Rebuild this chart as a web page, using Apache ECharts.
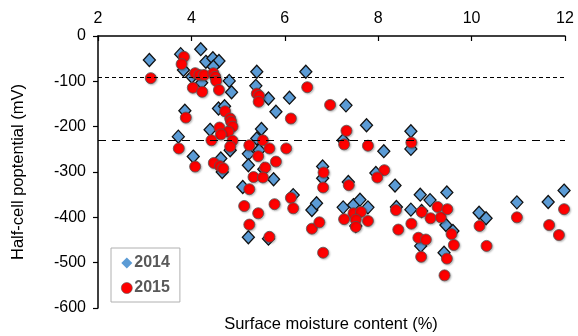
<!DOCTYPE html>
<html><head><meta charset="utf-8">
<script src="https://cdn.jsdelivr.net/npm/echarts@6/dist/echarts.min.js"></script>
<style>html,body{margin:0;padding:0;background:#fff}#c{width:578px;height:336px}</style>
</head><body><div id="c"></div>
<script>
const seriesNames = ['2014', '2015'];
const xTicks = [2, 4, 6, 8, 10, 12];
const yTicks = [0, -100, -200, -300, -400, -500, -600];
const refLines = [-90, -230];
const data2014 = [
[3.10,-53],[3.77,-40],[4.20,-29],[3.83,-75],[4.31,-57],[4.46,-49],[4.59,-55],[4.47,-68],[4.01,-90],[4.22,-103],
[4.81,-99],[4.86,-124],[3.86,-165],[4.58,-160],[4.71,-155],[4.40,-207],[3.72,-222],[4.04,-266],[4.63,-270],[4.83,-252],
[4.66,-300],[5.40,-79],[5.38,-110],[5.65,-138],[5.81,-167],[6.10,-136],[6.45,-79],[5.50,-205],[5.40,-226],[5.22,-260],
[5.45,-252],[5.22,-285],[5.55,-294],[5.76,-316],[5.10,-333],[6.18,-351],[6.58,-384],[6.68,-369],[5.22,-444],[5.65,-447],
[7.31,-153],[7.75,-197],[7.25,-230],[8.12,-254],[8.70,-210],[8.70,-249],[6.81,-288],[7.95,-302],[6.81,-314],[7.36,-322],
[8.36,-330],[7.25,-378],[7.47,-373],[7.61,-361],[7.78,-378],[7.52,-419],[8.39,-377],[8.70,-383],[8.90,-350],[9.11,-362],
[8.93,-386],[9.47,-345],[9.45,-417],[9.60,-430],[8.91,-463],[9.41,-478],[10.16,-390],[10.31,-402],[10.97,-367],[11.64,-366],
[11.98,-341]
];
const data2015 = [
[3.13,-93],[3.84,-46],[3.79,-62],[4.08,-82],[4.17,-86],[4.27,-86],[4.47,-82],[4.51,-90],[4.53,-99],[4.03,-114],
[4.23,-123],[4.59,-119],[3.88,-180],[4.72,-166],[4.83,-182],[4.85,-189],[4.88,-200],[4.60,-202],[4.79,-211],[4.63,-217],
[4.43,-230],[4.88,-231],[4.83,-244],[3.73,-248],[4.08,-288],[4.48,-280],[4.61,-287],[4.68,-292],[5.40,-127],[5.45,-132],
[5.44,-145],[6.48,-113],[6.13,-182],[5.24,-241],[5.53,-230],[5.67,-248],[6.03,-248],[5.43,-265],[5.81,-277],[5.58,-290],
[5.33,-311],[5.53,-312],[5.24,-338],[5.13,-375],[5.43,-391],[5.78,-371],[6.13,-357],[6.18,-380],[5.24,-416],[5.67,-443],
[6.58,-425],[6.74,-411],[6.82,-478],[6.97,-152],[7.32,-209],[7.27,-239],[7.78,-242],[8.71,-235],[6.83,-301],[8.13,-296],
[7.98,-312],[6.82,-334],[7.37,-329],[7.27,-404],[7.47,-391],[7.63,-388],[7.52,-405],[7.52,-421],[7.78,-408],[8.38,-384],
[8.43,-427],[8.71,-414],[8.93,-388],[9.12,-402],[9.27,-377],[9.34,-400],[9.48,-382],[8.86,-445],[9.02,-449],[8.92,-487],
[9.57,-437],[9.62,-461],[9.47,-491],[9.42,-528],[10.17,-419],[10.32,-463],[10.97,-400],[11.66,-417],[11.87,-439],[11.98,-382]
];
const xTitle = 'Surface moisture content (%)';
const yTitle = 'Half-cell poptential (mV)';

const FONT = 'Liberation Sans, Arial, sans-serif';
const chart = echarts.init(document.getElementById('c'), null, {renderer: 'canvas'});
chart.setOption({
  animation: false,
  backgroundColor: '#fff',
  grid: {left: 98, right: 13, top: 36, bottom: 28},
  xAxis: {
    type: 'value', position: 'top', min: xTicks[0], max: xTicks[xTicks.length - 1], interval: 2,
    axisLine: {onZero: false, lineStyle: {color: '#000', width: 1.5}},
    axisTick: {show: true, inside: true, length: 5, lineStyle: {color: '#000', width: 1.2}},
    axisLabel: {color: '#000', fontSize: 16, fontFamily: FONT, margin: 9},
    splitLine: {show: false}
  },
  yAxis: {
    type: 'value', min: -600, max: 0, interval: 100,
    name: yTitle, nameLocation: 'middle', nameRotate: 90, nameGap: 71,
    nameTextStyle: {color: '#000', fontSize: 16.5, fontFamily: FONT},
    axisLine: {onZero: false, lineStyle: {color: '#000', width: 1.5}},
    axisTick: {show: true, inside: false, length: 5, lineStyle: {color: '#000', width: 1.2}},
    axisLabel: {color: '#000', fontSize: 16, fontFamily: FONT, margin: 12},
    splitLine: {show: false}
  },
  legend: {
    orient: 'vertical', left: 111, top: 248,
    data: [
      {name: seriesNames[0], itemStyle: {borderWidth: 0}},
      {name: seriesNames[1], itemStyle: {borderWidth: 0.6}}
    ],
    borderColor: '#b0b0b0', borderWidth: 1,
    padding: [7, 10, 6, 10], itemGap: 9,
    itemWidth: 11, itemHeight: 11,
    textStyle: {color: '#595959', fontWeight: 'bold', fontSize: 16, fontFamily: FONT, padding: [0,0,0,-3]}
  },
  graphic: [{
    type: 'text', x: 331, y: 324,
    style: {text: xTitle, textAlign: 'center', textVerticalAlign: 'middle', font: '16.5px ' + FONT, fill: '#000'}
  }],
  series: [
    {
      name: seriesNames[0], type: 'scatter', symbol: 'diamond', symbolSize: [12, 13], clip: false,
      itemStyle: {color: '#5b9bd5', borderColor: '#111', borderWidth: 1.3, opacity: 1},
      data: data2014, z: 2,
      markLine: {
        silent: true, symbol: 'none', label: {show: false},
        data: [
          {yAxis: refLines[0], lineStyle: {color: '#000', width: 1.2, type: [4, 3]}},
          {yAxis: refLines[1], lineStyle: {color: '#000', width: 1.2, type: [8, 6]}}
        ]
      }
    },
    {
      name: seriesNames[1], type: 'scatter', symbol: 'circle', symbolSize: 11, clip: false,
      itemStyle: {color: '#ff0000', borderColor: '#555', borderWidth: 0.8, opacity: 1,
        shadowColor: 'rgba(0,0,0,0.25)', shadowBlur: 2, shadowOffsetX: 1, shadowOffsetY: 1},
      data: data2015, z: 3
    }
  ]
});
</script></body></html>
